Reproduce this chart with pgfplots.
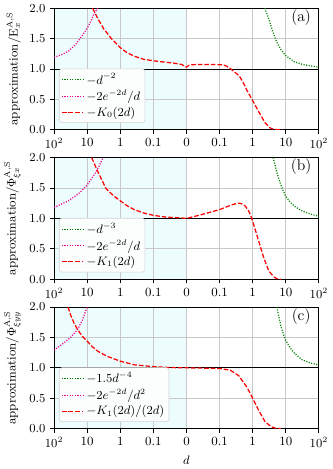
\documentclass[border=0pt]{standalone}
\usepackage{pgfplots}
\pgfplotsset{compat=1.18}

\definecolor{shade}{RGB}{237,252,253}
\definecolor{dgreen}{RGB}{0,128,0}
\definecolor{gridgray}{RGB}{200,200,200}
\definecolor{legframe}{RGB}{210,210,210}
\definecolor{legfill}{RGB}{252,254,254}

\tikzset{
  greenline/.style={dgreen, line width=0.9pt, dash pattern=on 0.8pt off 1.1pt},
  magline/.style={magenta, line width=0.9pt, dash pattern=on 0.8pt off 1.1pt},
  redline/.style={red, line width=0.9pt, dash pattern=on 3.4pt off 1.4pt},
}

\pgfplotsset{
  panel/.style={
    set layers,
    scale only axis,
    width=194.4pt, height=89.3pt,
    xmin=0, xmax=8, ymin=0, ymax=2,
    xtick={0,...,8},
    xticklabels={$10^2$,10,1,0.1,0,0.1,1,10,$10^2$},
    ytick={0,0.5,1,1.5,2},
    yticklabel style={/pgf/number format/.cd, fixed, fixed zerofill, precision=1},
    grid=major,
    grid style={gridgray, line width=0.6pt},
    tick align=outside, tick pos=left,
    major tick length=3pt,
    tick style={black, line width=0.6pt},
    axis line style={line width=0.7pt},
    legend cell align=left,
    legend image code/.code={\draw[##1] (0cm,0cm) -- (0.55cm,0cm);},
    legend style={at={(0.0185,0.056)}, anchor=south west,
      draw=legframe, rounded corners=2pt, fill=legfill,
      inner sep=1.5pt, row sep=-1pt},
  },
  shadearea/.style={fill=shade, draw=none, forget plot, on layer=axis background},
  unity/.style={black, line width=0.6pt, forget plot},
}

\begin{document}
\fontsize{9.2}{11}\selectfont
\begin{tikzpicture}

% (a)
\begin{axis}[panel, name=pa,
    ylabel={approximation/$\mathrm{E}_x^{\mathrm{A,S}}$}]
  \addplot[shadearea] coordinates {(0,0) (4,0) (4,2) (0,2)} -- cycle;
  \addplot[unity] coordinates {(0,1) (8,1)};
  \addplot[greenline] coordinates {
    (6.37,2.0) (6.5,1.8) (6.6,1.62) (6.72,1.45) (6.85,1.32) (7,1.22)
    (7.25,1.12) (7.5,1.075) (7.75,1.05) (8,1.03)
  };
  \addlegendentry{$-d^{-2}$}
  \addplot[magline] coordinates {
    (0,1.19) (0.25,1.24) (0.44,1.295) (0.65,1.4) (0.84,1.54) (1,1.67)
    (1.1,1.77) (1.19,1.89) (1.32,2.0)
  };
  \addlegendentry{$-2e^{-2d}/d$}
  \addplot[redline] coordinates {
    (1.165,2.0) (1.3,1.85) (1.5,1.66) (1.73,1.5) (2,1.35) (2.2,1.27)
    (2.42,1.21) (2.7,1.16) (3,1.134) (3.3,1.115) (3.6,1.097) (3.85,1.075)
    (4,1.03) (4.08,1.06) (4.15,1.07) (4.5,1.075) (5.09,1.07) (5.2,1.05)
    (5.34,1.0) (5.45,0.95) (5.59,0.89) (5.7,0.79) (5.83,0.645) (6,0.48)
    (6.18,0.3) (6.38,0.11) (6.53,0.03) (6.65,0.005) (6.8,0) (6.9,0)
  };
  \addlegendentry{$-K_0(2d)$}
  \node[font=\fontsize{11.5}{13}\selectfont] at (rel axis cs:0.933,0.925) {(a)};
\end{axis}

% (b)
\begin{axis}[panel, name=pb, at={(0,-109.7pt)},
    ylabel={approximation/$\Phi_{\xi x}^{\mathrm{A,S}}$}]
  \addplot[shadearea] coordinates {(0,0) (4,0) (4,2) (0,2)} -- cycle;
  \addplot[unity] coordinates {(0,1) (8,1)};
  \addplot[greenline] coordinates {
    (6.62,2.0) (6.72,1.78) (6.82,1.6) (6.9,1.48) (7,1.36) (7.13,1.27)
    (7.26,1.2) (7.5,1.12) (7.75,1.07) (8,1.035)
  };
  \addlegendentry{$-d^{-3}$}
  \addplot[magline] coordinates {
    (0,1.18) (0.44,1.29) (0.75,1.41) (1,1.55) (1.24,1.74) (1.36,1.86)
    (1.48,2.0)
  };
  \addlegendentry{$-2e^{-2d}/d$}
  \addplot[redline] coordinates {
    (1.135,2.0) (1.33,1.76) (1.57,1.49) (1.8,1.37) (2,1.29) (2.2,1.21)
    (2.42,1.145) (2.7,1.09) (3,1.05) (3.4,1.02) (3.8,1.01) (4,1.0)
    (4.44,1.06) (5,1.145) (5.33,1.215) (5.5,1.245) (5.6,1.25) (5.7,1.235)
    (5.78,1.2) (5.86,1.14) (5.93,1.065) (6.03,0.9) (6.18,0.63) (6.33,0.36)
    (6.48,0.145) (6.63,0.04) (6.75,0.005) (6.85,0)
  };
  \addlegendentry{$-K_1(2d)$}
  \node[font=\fontsize{11.5}{13}\selectfont] at (rel axis cs:0.933,0.925) {(b)};
\end{axis}

% (c)
\begin{axis}[panel, name=pc, at={(0,-219.4pt)},
    xlabel={$d$},
    ylabel={approximation/$\Phi_{\xi yy}^{\mathrm{A,S}}$}]
  \addplot[shadearea] coordinates {(0,0) (4,0) (4,2) (0,2)} -- cycle;
  \addplot[unity] coordinates {(0,1) (8,1)};
  \addplot[greenline] coordinates {
    (6.73,2.0) (6.8,1.82) (6.86,1.67) (6.93,1.55) (7,1.45) (7.13,1.33)
    (7.26,1.24) (7.5,1.13) (7.75,1.08) (8,1.045)
  };
  \addlegendentry{$-1.5d^{-4}$}
  \addplot[magline] coordinates {
    (0,1.29) (0.25,1.39) (0.5,1.5) (0.71,1.63) (0.85,1.78) (1.0,2.0)
  };
  \addlegendentry{$-2e^{-2d}/d^2$}
  \addplot[redline] coordinates {
    (0.42,2.0) (0.5,1.87) (0.6,1.74) (0.71,1.63) (0.85,1.52) (1,1.44)
    (1.15,1.35) (1.33,1.27) (1.6,1.19) (2,1.11) (2.42,1.05) (3,1.02)
    (3.5,1.005) (4,1.0) (5,0.99) (5.33,0.96) (5.58,0.87) (5.83,0.68)
    (6,0.5) (6.18,0.3) (6.38,0.11) (6.57,0.03) (6.7,0.005) (6.85,0)
  };
  \addlegendentry{$-K_1(2d)/(2d)$}
  \node[font=\fontsize{11.5}{13}\selectfont] at (rel axis cs:0.933,0.925) {(c)};
\end{axis}

\end{tikzpicture}
\end{document}
